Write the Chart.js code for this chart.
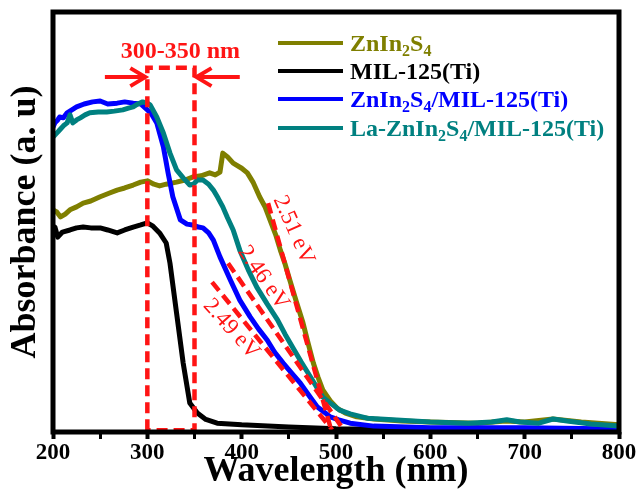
<!DOCTYPE html>
<html>
<head>
<meta charset="utf-8">
<script src="https://cdn.jsdelivr.net/npm/chart.js@4.4.1/dist/chart.umd.min.js"></script>
<style>
  body { margin: 0; background: #fff; }
  #wrap { width: 638px; height: 496px; }
</style>
</head>
<body>
<div id="wrap"><canvas id="absorbanceChart"></canvas></div>
<script>
// UV-vis absorbance spectra (arbitrary units)
const seriesNames = ['ZnIn_2S_4', 'MIL-125(Ti)', 'ZnIn_2S_4/MIL-125(Ti)', 'La-ZnIn_2S_4/MIL-125(Ti)'];

const zisWl  = [200, 204, 208, 213, 218, 225, 232, 240, 250, 260, 268, 276, 285, 293, 300, 307, 313, 320, 331, 340, 348, 357, 366, 372, 377, 380, 385, 391, 400, 406, 412, 419, 425, 430, 436, 441, 446, 451, 458, 465, 470, 476, 481, 486, 494, 501, 510, 522, 540, 570, 600, 650, 680, 700, 730, 760, 800];
const zisAbs = [0.529, 0.524, 0.512, 0.519, 0.529, 0.536, 0.545, 0.55, 0.56, 0.569, 0.576, 0.581, 0.588, 0.595, 0.598, 0.59, 0.586, 0.59, 0.595, 0.6, 0.607, 0.61, 0.617, 0.612, 0.619, 0.664, 0.655, 0.64, 0.628, 0.617, 0.595, 0.56, 0.535, 0.505, 0.47, 0.433, 0.4, 0.362, 0.31, 0.26, 0.215, 0.164, 0.13, 0.1, 0.074, 0.057, 0.045, 0.036, 0.031, 0.026, 0.024, 0.021, 0.026, 0.024, 0.031, 0.024, 0.017];

const milWl  = [200, 202, 205, 210, 218, 225, 232, 240, 250, 258, 268, 276, 285, 293, 300, 306, 313, 320, 324, 331, 338, 345, 353, 362, 374, 400, 450, 500, 600, 700, 800];
const milAbs = [0.476, 0.488, 0.464, 0.476, 0.481, 0.486, 0.488, 0.486, 0.486, 0.481, 0.474, 0.481, 0.488, 0.493, 0.498, 0.49, 0.474, 0.45, 0.402, 0.283, 0.164, 0.069, 0.045, 0.03, 0.021, 0.017, 0.012, 0.008, 0.006, 0.006, 0.005];

const compWl  = [200, 202, 205, 207, 211, 215, 220, 225, 233, 242, 250, 258, 268, 276, 285, 293, 300, 305, 310, 317, 322, 327, 335, 342, 348, 354, 359, 365, 370, 377, 388, 398, 409, 418, 427, 435, 444, 453, 462, 471, 480, 487, 494, 503, 515, 540, 600, 700, 800];
const compAbs = [0.726, 0.736, 0.743, 0.75, 0.748, 0.76, 0.767, 0.774, 0.781, 0.786, 0.788, 0.781, 0.783, 0.786, 0.783, 0.781, 0.767, 0.755, 0.736, 0.679, 0.617, 0.56, 0.505, 0.495, 0.493, 0.488, 0.486, 0.474, 0.457, 0.417, 0.362, 0.314, 0.274, 0.245, 0.219, 0.19, 0.164, 0.14, 0.117, 0.088, 0.06, 0.048, 0.036, 0.029, 0.021, 0.014, 0.01, 0.01, 0.007];

const laWl  = [200, 202, 205, 207, 211, 215, 218, 221, 225, 229, 234, 239, 248, 257, 265, 274, 280, 285, 290, 295, 300, 303, 310, 317, 324, 331, 338, 345, 349, 353, 359, 365, 370, 375, 380, 385, 391, 398, 407, 416, 427, 438, 446, 454, 463, 473, 480, 486, 495, 504, 515, 533, 560, 600, 640, 665, 681, 695, 715, 730, 745, 770, 800];
const laAbs = [0.702, 0.707, 0.714, 0.719, 0.729, 0.736, 0.755, 0.736, 0.743, 0.748, 0.755, 0.76, 0.762, 0.762, 0.764, 0.767, 0.771, 0.774, 0.781, 0.786, 0.783, 0.779, 0.75, 0.712, 0.664, 0.624, 0.605, 0.588, 0.59, 0.6, 0.6, 0.59, 0.576, 0.557, 0.536, 0.51, 0.481, 0.433, 0.386, 0.345, 0.305, 0.267, 0.233, 0.202, 0.167, 0.131, 0.105, 0.083, 0.067, 0.052, 0.043, 0.033, 0.029, 0.024, 0.021, 0.024, 0.029, 0.024, 0.021, 0.031, 0.026, 0.019, 0.014];

// 300-350 nm window and band-gap tangent lines
const boxWl  = [300, 300, 350, 350, 300];
const boxAbs = [0.004, 0.867, 0.867, 0.004, 0.004];
const tan251Wl = [428, 494],   tan251Abs = [0.545, 0.012];
const tan246Wl = [385.6, 506], tan246Abs = [0.402, 0.012];
const tan249Wl = [368.6, 496], tan249Abs = [0.357, 0.005];
const gapLabels = ['2.51 eV', '2.46 eV', '2.49 eV'];

const xTicks = [200, 300, 400, 500, 600, 700, 800];

const colors = ['#7f7f00', '#000000', '#0000ff', '#008080'];
const red = 'rgb(255, 20, 20)';
const serif = '"Liberation Serif", "Times New Roman", serif';

function pts(xs, ys) {
    return xs.map((v, i) => ({x: v, y: ys[i]}));
}

function curve(label, xs, ys, color) {
    return {label: label, data: pts(xs, ys), borderColor: color, borderWidth: 5,
        pointRadius: 0, tension: 0, borderJoinStyle: 'round', borderCapStyle: 'round'};
}

function dashed(xs, ys) {
    return {label: '', data: pts(xs, ys), borderColor: red, borderWidth: 4.5,
        borderDash: [11, 6], pointRadius: 0, tension: 0};
}

function richText(ctx, str, x, y, size) {
    const parts = str.split(/_(\d)/);
    parts.forEach((p, i) => {
        if (!p) return;
        const sub = i % 2 === 1;
        ctx.font = 'bold ' + (sub ? Math.round(size * 0.66) : size) + 'px ' + serif;
        ctx.fillText(p, x, sub ? y + 5 : y);
        x += ctx.measureText(p).width;
    });
}

const overlay = {
    id: 'overlay',
    afterDatasetsDraw(chart) {
        const {ctx, chartArea: a, scales: {x, y}} = chart;
        ctx.save();

        // frame
        ctx.strokeStyle = '#000';
        ctx.lineWidth = 5;
        ctx.strokeRect(a.left, a.top, a.right - a.left, a.bottom - a.top);

        // arrows pointing at the window
        ctx.strokeStyle = red;
        ctx.lineWidth = 4;
        const ay = y.getPixelForValue(0.845);
        const arrow = (x0, x1) => {
            const d = Math.sign(x1 - x0);
            ctx.beginPath();
            ctx.moveTo(x0, ay); ctx.lineTo(x1, ay);
            ctx.moveTo(x1 - d * 15, ay - 9); ctx.lineTo(x1, ay); ctx.lineTo(x1 - d * 15, ay + 9);
            ctx.stroke();
        };
        arrow(x.getPixelForValue(255), x.getPixelForValue(300) - 2);
        arrow(x.getPixelForValue(398), x.getPixelForValue(350) + 2);

        ctx.fillStyle = red;
        ctx.textAlign = 'center';
        ctx.textBaseline = 'middle';
        ctx.font = 'bold 24px ' + serif;
        ctx.fillText('300-350 nm', x.getPixelForValue(335), y.getPixelForValue(0.905));

        // band gap labels
        ctx.font = '23px ' + serif;
        const spots = [[455, 0.481, 66], [423, 0.367, 55], [389, 0.245, 48]];
        spots.forEach((s, i) => {
            ctx.save();
            ctx.translate(x.getPixelForValue(s[0]), y.getPixelForValue(s[1]));
            ctx.rotate(s[2] * Math.PI / 180);
            ctx.fillText(gapLabels[i], 0, 0);
            ctx.restore();
        });

        // legend
        ctx.textAlign = 'left';
        ctx.textBaseline = 'alphabetic';
        const rows = [43, 71, 99, 128];
        seriesNames.forEach((name, i) => {
            ctx.strokeStyle = colors[i];
            ctx.lineWidth = 4;
            ctx.beginPath();
            ctx.moveTo(278, rows[i]);
            ctx.lineTo(343, rows[i]);
            ctx.stroke();
            ctx.fillStyle = colors[i];
            richText(ctx, name, 350, rows[i] + 8, 24);
        });
        ctx.restore();
    }
};

new Chart(document.getElementById('absorbanceChart'), {
    type: 'line',
    data: {
        datasets: [
            dashed(boxWl, boxAbs),
            dashed(tan251Wl, tan251Abs),
            dashed(tan246Wl, tan246Abs),
            dashed(tan249Wl, tan249Abs),
            curve(seriesNames[3], laWl, laAbs, colors[3]),
            curve(seriesNames[2], compWl, compAbs, colors[2]),
            curve(seriesNames[0], zisWl, zisAbs, colors[0]),
            curve(seriesNames[1], milWl, milAbs, colors[1])
        ]
    },
    options: {
        responsive: true,
        maintainAspectRatio: false,
        animation: false,
        layout: {padding: {top: 12, right: 19, bottom: 0, left: 0}},
        plugins: {legend: {display: false}, tooltip: {enabled: false}},
        scales: {
            x: {
                type: 'linear',
                min: 200,
                max: 800,
                afterFit: (s) => { s.height = 64; },
                border: {display: false},
                grid: {
                    drawOnChartArea: false,
                    tickLength: 7,
                    tickColor: '#000',
                    tickWidth: (c) => (c.tick && c.tick.value % 100 ? 3 : 4)
                },
                ticks: {
                    stepSize: 50,
                    padding: 0,
                    maxRotation: 0,
                    autoSkip: false,
                    color: '#000',
                    font: {family: serif, size: 23, weight: 'bold'},
                    callback: (v) => (xTicks.includes(v) ? v : '')
                },
                title: {
                    display: true,
                    text: 'Wavelength (nm)',
                    color: '#000',
                    font: {family: serif, size: 36, weight: 'bold'},
                    padding: {top: 0, bottom: 3}
                }
            },
            y: {
                min: 0,
                max: 1,
                afterFit: (s) => { s.width = 53; },
                border: {display: false},
                grid: {display: false},
                ticks: {display: false},
                title: {
                    display: true,
                    text: 'Absorbance (a. u)',
                    color: '#000',
                    font: {family: serif, size: 36, weight: 'bold'},
                    padding: {top: 4, bottom: 0}
                }
            }
        }
    },
    plugins: [overlay]
});
</script>
</body>
</html>
